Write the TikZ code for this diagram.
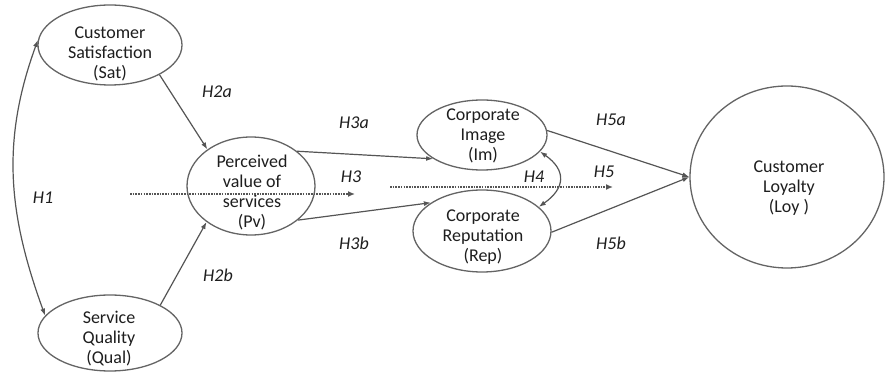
\documentclass[tikz,border=0pt]{standalone}
\usepackage{fontspec}
\setmainfont{Carlito}
\usetikzlibrary{arrows.meta,shapes.geometric}
\definecolor{edgegray}{RGB}{85,85,85}
\definecolor{ovalgray}{RGB}{100,100,100}
\definecolor{txtgray}{RGB}{30,30,30}
\begin{document}
\begin{tikzpicture}[x=1pt,y=1pt,
  oval/.style={draw=ovalgray, line width=1.3pt, ellipse, inner sep=0pt},
  otext/.style={align=center, text=txtgray, font=\fontsize{18}{20}\selectfont, inner sep=0pt},
  hlab/.style={text=txtgray, font=\fontsize{18}{20}\selectfont\itshape, inner sep=0pt},
  conn/.style={draw=edgegray, line width=1.2pt, -{Latex[length=7pt,width=5pt]}},
  biconn/.style={draw=edgegray, line width=1.2pt, {Latex[length=7pt,width=5pt]}-{Latex[length=7pt,width=5pt]}},
  dots/.style={draw=edgegray, line width=2.3pt, dash pattern=on 1.6pt off 1.1pt, -{Latex[length=7pt,width=6pt]}}
]
\useasboundingbox[fill=white] (0,0) rectangle (886,372);

% ellipses
\node[oval, minimum width=144pt, minimum height=80pt] (sat) at (110,327) {};
\node[oval, minimum width=144pt, minimum height=76pt] (qual) at (110,39) {};
\node[oval, minimum width=128pt, minimum height=98pt] (pv) at (251,186) {};
\node[oval, minimum width=130pt, minimum height=70pt] (im) at (482,237) {};
\node[oval, minimum width=138pt, minimum height=82pt] (rep) at (482,141) {};
\node[oval, minimum width=194pt, minimum height=182pt] (loy) at (787,195) {};

% texts
\node[otext] (satT) at (110,318) {Customer\\Satisfaction\\(Sat)};
\node[otext] (qualT) at (109,33) {Service\\Quality\\(Qual)};
\node[otext] (pvT) at (252,179) {Perceived\\value of\\services\\(Pv)};
\node[otext] (imT) at (483,236) {Corporate\\Image\\(Im)};
\node[otext] (repT) at (483,135) {Corporate\\Reputation\\(Rep)};
\node[otext] (loyT) at (789,184) {Customer\\Loyalty\\(Loy )};

% labels
\node[hlab] (h2a) at (217,280) {H2a};
\node[hlab] (h1) at (43,174) {H1};
\node[hlab] (h2b) at (218,97) {H2b};
\node[hlab] (h3a) at (354,249) {H3a};
\node[hlab] (h3) at (351,195) {H3};
\node[hlab] (h3b) at (354,129) {H3b};
\node[hlab] (h4) at (534,195) {H4};
\node[hlab] (h5) at (604,200) {H5};
\node[hlab] (h5a) at (611,252) {H5a};
\node[hlab] (h5b) at (611,129) {H5b};

% connectors
\draw[conn] (sat.-31) -- (pv.140);
\draw[conn] (qual.29) -- (pv.-141);
\draw[conn] (pv.37) -- (im.206);
\draw[conn] (pv.-36) -- (rep.151);
\draw[conn] (im.4) -- (loy.180);
\draw[conn] (rep.-1) -- (loy.180);
\draw[biconn] (im.-16) to[out=-35,in=35,looseness=1.5] (rep.23);
\draw[biconn] (sat.176) to[out=-110,in=110] (qual.165);

% dotted effects
\coordinate (d3s) at (130,178);
\coordinate (d3e) at (355,178);
\coordinate (d5s) at (390,185);
\coordinate (d5e) at (613,185);
\draw[dots] (d3s) -- (d3e);
\draw[dots] (d5s) -- (d5e);
\end{tikzpicture}
\end{document}
